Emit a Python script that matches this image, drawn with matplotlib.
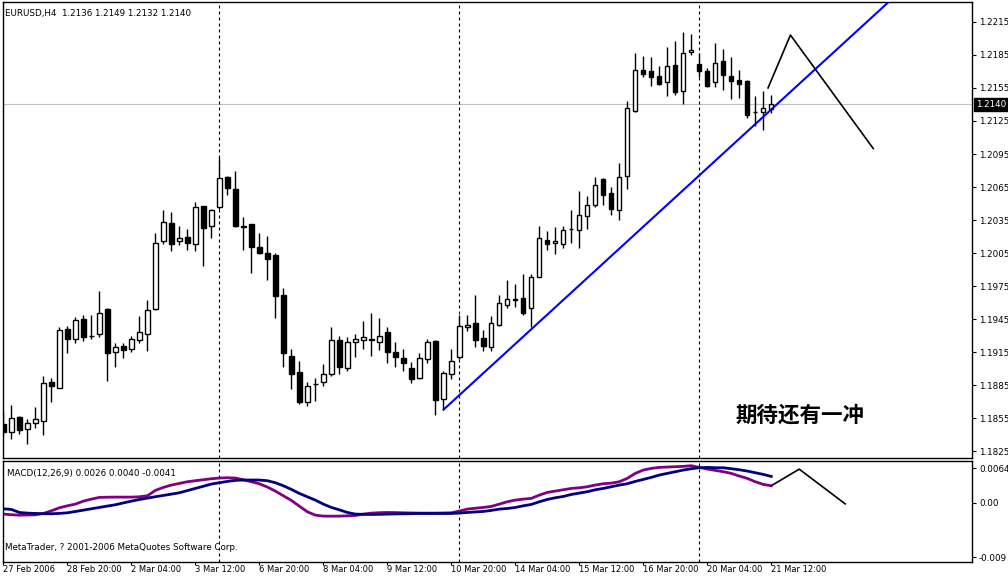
import matplotlib.pyplot as plt
from matplotlib.transforms import blended_transform_factory

# EURUSD H4, 27 Feb 2006 12:00 .. 21 Mar 12:00 (one value per bar)
opens = [1.1850, 1.1843, 1.1856, 1.1845, 1.1851, 1.1853, 1.1888, 1.1883, 1.1936, 1.1927,
         1.1945, 1.1930, 1.1932, 1.1954, 1.1915, 1.1921, 1.1918, 1.1926, 1.1932, 1.1954,
         1.2016, 1.2032, 1.2016, 1.2020, 1.2013, 1.2048, 1.2030, 1.2047, 1.2074, 1.2063,
         1.2030, 1.2031, 1.2011, 1.2005, 1.2003, 1.1967, 1.1912, 1.1897, 1.1870, 1.1886,
         1.1888, 1.1895, 1.1926, 1.1901, 1.1924, 1.1926, 1.1927, 1.1924, 1.1933, 1.1915,
         1.1910, 1.1901, 1.1892, 1.1909, 1.1925, 1.1873, 1.1895, 1.1911, 1.1938, 1.1942,
         1.1928, 1.1920, 1.1940, 1.1958, 1.1963, 1.1964, 1.1955, 1.1983, 1.2017, 1.2014,
         1.2013, 1.2027, 1.2026, 1.2039, 1.2049, 1.2072, 1.2060, 1.2044, 1.2075, 1.2134,
         1.2171, 1.2170, 1.2166, 1.2160, 1.2176, 1.2152, 1.2188, 1.2177, 1.2170, 1.2160,
         1.2179, 1.2166, 1.2162, 1.2161, 1.2133, 1.2133, 1.2136]
highs = [1.1862, 1.1867, 1.1857, 1.1854, 1.1865, 1.1893, 1.1892, 1.1938, 1.1939, 1.1947,
         1.1949, 1.1949, 1.1971, 1.1955, 1.1923, 1.1923, 1.1930, 1.1948, 1.1962, 1.2023,
         1.2044, 1.2042, 1.2030, 1.2027, 1.2051, 1.2048, 1.2045, 1.2092, 1.2075, 1.2080,
         1.2038, 1.2031, 1.2023, 1.2021, 1.2005, 1.1973, 1.1918, 1.1907, 1.1888, 1.1892,
         1.1904, 1.1938, 1.1930, 1.1929, 1.1932, 1.1943, 1.1951, 1.1946, 1.1938, 1.1924,
         1.1918, 1.1906, 1.1914, 1.1927, 1.1926, 1.1898, 1.1918, 1.1949, 1.1949, 1.1967,
         1.1935, 1.1948, 1.1967, 1.1981, 1.1977, 1.1986, 1.1986, 1.2030, 1.2025, 1.2029,
         1.2030, 1.2044, 1.2061, 1.2057, 1.2074, 1.2073, 1.2065, 1.2087, 1.2143, 1.2187,
         1.2184, 1.2183, 1.2175, 1.2192, 1.2198, 1.2206, 1.2204, 1.2187, 1.2173, 1.2196,
         1.2190, 1.2183, 1.2171, 1.2162, 1.2148, 1.2152, 1.2149]
lows = [1.1839, 1.1836, 1.1841, 1.1832, 1.1846, 1.1840, 1.1870, 1.1883, 1.1914, 1.1923,
        1.1925, 1.1927, 1.1929, 1.1889, 1.1902, 1.1910, 1.1915, 1.1923, 1.1916, 1.1953,
        1.2013, 1.2007, 1.2012, 1.2008, 1.2007, 1.1993, 1.2019, 1.2045, 1.2058, 1.2029,
        1.2008, 1.1987, 1.2004, 1.1981, 1.1946, 1.1902, 1.1882, 1.1868, 1.1866, 1.1871,
        1.1884, 1.1893, 1.1895, 1.1898, 1.1911, 1.1918, 1.1912, 1.1917, 1.1905, 1.1902,
        1.1898, 1.1887, 1.1891, 1.1905, 1.1858, 1.1863, 1.1891, 1.1909, 1.1934, 1.1920,
        1.1916, 1.1916, 1.1939, 1.1955, 1.1956, 1.1949, 1.1938, 1.1983, 1.2008, 1.2004,
        1.2010, 1.2014, 1.2010, 1.2027, 1.2047, 1.2049, 1.2040, 1.2035, 1.2063, 1.2133,
        1.2165, 1.2157, 1.2158, 1.2148, 1.2149, 1.2140, 1.2185, 1.2165, 1.2156, 1.2156,
        1.2153, 1.2145, 1.2146, 1.2128, 1.2120, 1.2117, 1.2132]
closes = [1.1843, 1.1855, 1.1844, 1.1851, 1.1854, 1.1887, 1.1884, 1.1935, 1.1927, 1.1944,
          1.1929, 1.1930, 1.1951, 1.1914, 1.1920, 1.1917, 1.1927, 1.1933, 1.1953, 1.2014,
          1.2033, 1.2013, 1.2019, 1.2014, 1.2047, 1.2028, 1.2044, 1.2073, 1.2064, 1.2030,
          1.2029, 1.2011, 1.2005, 1.2000, 1.1966, 1.1914, 1.1895, 1.1870, 1.1884, 1.1886,
          1.1895, 1.1926, 1.1902, 1.1924, 1.1927, 1.1929, 1.1926, 1.1930, 1.1915, 1.1911,
          1.1905, 1.1891, 1.1910, 1.1924, 1.1872, 1.1896, 1.1907, 1.1939, 1.1940, 1.1926,
          1.1921, 1.1942, 1.1960, 1.1963, 1.1962, 1.1951, 1.1983, 1.2019, 1.2013, 1.2016,
          1.2026, 1.2027, 1.2040, 1.2049, 1.2067, 1.2058, 1.2045, 1.2074, 1.2137, 1.2171,
          1.2168, 1.2165, 1.2159, 1.2175, 1.2151, 1.2187, 1.2189, 1.2170, 1.2157, 1.2178,
          1.2167, 1.2161, 1.2159, 1.2130, 1.2133, 1.2137, 1.2140]

# MACD panel lines (x0.001)
macd_purple = [-2.08, -2.20, -2.27, -2.25, -2.21, -1.96, -1.47, -0.92, -0.55, -0.24,
               0.31, 0.68, 0.99, 1.03, 1.05, 1.05, 1.05, 1.11, 1.30, 2.28,
               2.84, 3.27, 3.57, 3.88, 4.07, 4.25, 4.43, 4.56, 4.62, 4.56,
               4.25, 3.88, 3.51, 2.90, 2.16, 1.30, 0.44, -0.61, -1.65, -2.27,
               -2.45, -2.46, -2.45, -2.40, -2.33, -2.08, -1.90, -1.82, -1.78, -1.80,
               -1.84, -1.87, -1.90, -1.90, -1.90, -1.88, -1.84, -1.53, -1.16, -1.00,
               -0.85, -0.67, -0.24, 0.19, 0.50, 0.68, 0.81, 1.42, 1.91, 2.16,
               2.40, 2.65, 2.77, 2.96, 3.27, 3.51, 3.63, 3.88, 4.50, 5.42,
               6.03, 6.34, 6.52, 6.59, 6.65, 6.71, 6.83, 6.52, 6.22, 5.97,
               5.73, 5.42, 4.93, 4.50, 3.88, 3.39, 3.14]
macd_navy = [-1.10, -1.22, -1.78, -1.90, -1.96, -2.00, -2.02, -1.95, -1.84, -1.60,
             -1.35, -1.10, -0.85, -0.60, -0.36, -0.02, 0.31, 0.60, 0.87, 1.12,
             1.36, 1.60, 1.85, 2.25, 2.65, 3.05, 3.45, 3.70, 3.94, 4.13,
             4.19, 4.20, 4.19, 4.07, 3.70, 3.14, 2.47, 1.73, 1.11, 0.50,
             -0.24, -0.85, -1.29, -1.78, -2.08, -2.12, -2.15, -2.12, -2.08, -2.05,
             -2.02, -2.00, -1.96, -1.96, -1.96, -1.96, -1.96, -1.88, -1.78, -1.68,
             -1.59, -1.40, -1.16, -1.04, -0.86, -0.55, -0.30, 0.19, 0.62, 0.93,
             1.17, 1.54, 1.79, 2.04, 2.40, 2.65, 2.96, 3.27, 3.51, 3.94,
             4.31, 4.68, 5.11, 5.42, 5.72, 6.03, 6.28, 6.46, 6.52, 6.46,
             6.46, 6.28, 6.09, 5.85, 5.54, 5.23, 4.86]

time_labels = ["27 Feb 2006", "28 Feb 20:00", "2 Mar 04:00", "3 Mar 12:00", "6 Mar 20:00",
               "8 Mar 04:00", "9 Mar 12:00", "10 Mar 20:00", "14 Mar 04:00", "15 Mar 12:00",
               "16 Mar 20:00", "20 Mar 04:00", "21 Mar 12:00"]
week_starts = [27, 57, 87]
price_ticks = [1.2215, 1.2185, 1.2155, 1.2125, 1.2095, 1.2065, 1.2035, 1.2005, 1.1975,
               1.1945, 1.1915, 1.1885, 1.1855, 1.1825]
last_price = 1.2140

plt.rcParams['font.family'] = ['DejaVu Sans']
fs = 6.3

fig = plt.figure(figsize=(10.08, 5.76), dpi=100)
W, H = 1008, 576
ax = fig.add_axes([3 / W, 1 - 458 / H, 969 / W, 456 / H])
ax2 = fig.add_axes([3 / W, 1 - 562 / H, 969 / W, 101 / H])

idx = list(range(len(opens)))

# candles
ax.vlines(idx, lows, highs, color='black', lw=1, zorder=2)
bottoms = [min(o, c) for o, c in zip(opens, closes)]
heights = [abs(c - o) for o, c in zip(opens, closes)]
fills = ['white' if c >= o else 'black' for o, c in zip(opens, closes)]
ax.bar(idx, heights, bottom=bottoms, width=0.55, color=fills, edgecolor='black',
       linewidth=1, zorder=3)

ax.axhline(last_price, color='#c0c0c0', lw=0.8, zorder=1)

# trend line (ray)
tx0, ty0, tx1, ty1 = 55.04, 1.1863, 100.9, 1.2168
slope = (ty1 - ty0) / (tx1 - tx0)
ax.plot([tx0, 125], [ty0, ty0 + slope * (125 - tx0)], color='#0000ff', lw=1.5, zorder=4)

# hand drawn projection
ax.plot([95.6, 98.4, 108.75], [1.2155, 1.2203, 1.2100], color='black', lw=1.2, zorder=4)
ax.text(91.5, 1.1858, "期待还有一冲", family=['Noto Sans CJK SC', 'DejaVu Sans'],
        fontsize=15.5, fontweight='bold', ha='left', va='center')

for a in (ax, ax2):
    for b in week_starts:
        a.axvline(b, color='black', lw=0.8, ls=(0, (2.7, 2.7)), zorder=1)
    a.set_xlim(-0.05, 121.1)
    for s in a.spines.values():
        s.set_linewidth(1)

ax.set_ylim(1.1819, 1.2233)
ax.yaxis.tick_right()
ax.set_yticks(price_ticks)
ax.set_yticklabels([f"{p:.4f}" for p in price_ticks])
ax.tick_params(axis='y', labelsize=fs, length=3, pad=2)
ax.set_xticks([])

trans = blended_transform_factory(ax.transAxes, ax.transData)
ax.text(1.004, last_price, f"{last_price:.4f}", transform=trans, fontsize=fs,
        color='white', ha='left', va='center',
        bbox=dict(facecolor='black', edgecolor='black', pad=1.2))

ax.text(0.002, 0.985, "EURUSD,H4  1.2136 1.2149 1.2132 1.2140", transform=ax.transAxes,
        fontsize=fs, ha='left', va='top')

# MACD panel
scaled_p = [v / 1000 for v in macd_purple]
scaled_n = [v / 1000 for v in macd_navy]
ax2.plot(idx, scaled_p, color='#800080', lw=2)
ax2.plot(idx, scaled_n, color='#000080', lw=2)
ax2.plot([96, 99.5, 105.25], [0.00314, 0.0062, -0.0002], color='black', lw=1.2)
ax2.set_ylim(-0.0109, 0.0077)
ax2.yaxis.tick_right()
ax2.set_yticks([0.0064, 0.0, -0.0100])
ax2.set_yticklabels(["0.0064", "0.00", "-0.009"])
ax2.tick_params(axis='y', labelsize=fs, length=3, pad=2)
ax2.set_xticks(list(range(0, 97, 8)))
ax2.set_xticklabels(time_labels)
ax2.tick_params(axis='x', labelsize=6, length=2.5, pad=0)
for lab in ax2.get_xticklabels():
    lab.set_ha('left')
ax2.text(0.004, 0.92, "MACD(12,26,9) 0.0026 0.0040 -0.0041", transform=ax2.transAxes,
         fontsize=fs, ha='left', va='top')
ax2.text(0.002, 0.14, "MetaTrader, ? 2001-2006 MetaQuotes Software Corp.",
         transform=ax2.transAxes, fontsize=fs, ha='left', va='center')

fig.savefig("out.png", dpi=100)
